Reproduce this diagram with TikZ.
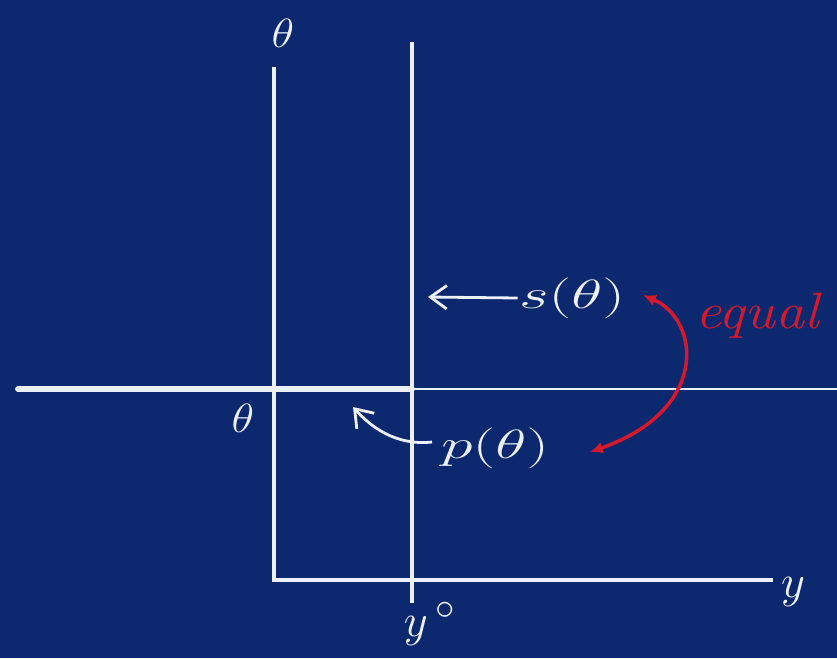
\documentclass[tikz,border=0pt]{standalone}
\usepackage{amsmath,amssymb}
\usepackage{graphicx}
\usetikzlibrary{arrows.meta, positioning, calc}
\definecolor{boardblue}{RGB}{12, 40, 110}
\definecolor{chalk}{RGB}{236, 240, 250}
\definecolor{chalkred}{RGB}{214, 24, 44}
\newcommand{\handw}[1]{\scalebox{2.2}[1.4]{#1}}

\begin{document}
\begin{tikzpicture}[
    x=0.03cm, y=-0.03cm,
    axis/.style={chalk, line width=3pt},
    chalkarrow/.style={-{Straight Barb[length=14pt, width=20pt]}, chalk, line width=2.4pt},
    redarrow/.style={{Latex[length=11pt, width=10pt]}-{Latex[length=11pt, width=10pt]}, chalkred, line width=3pt},
    lbl/.style={text=chalk, inner sep=1pt, font=\Huge}
]

% Fondo de pizarra
\fill[boardblue] (0,0) rectangle (837,658);
\useasboundingbox (0,0) rectangle (837,658);

% Ejes
\coordinate (O) at (274,580);
\coordinate (thetaTop) at (274,67);
\coordinate (yEnd) at (773,580);
\draw[axis] (thetaTop) -- (O) -- (yEnd);

% Recta vertical en y0
\coordinate (yTop) at (412,42);
\coordinate (yBot) at (412,603);
\draw[axis] (yTop) -- (yBot);

% Recta horizontal theta (gruesa hasta y0, luego fina)
\coordinate (hLeft) at (18,389);
\coordinate (hMid) at (412,389);
\coordinate (hRight) at (837,389);
\draw[chalk, line width=5pt, line cap=round] (hLeft) -- (hMid);
\draw[chalk, line width=2.2pt] (hMid) -- (hRight);

% Etiquetas de los ejes
\node[lbl] (thetaLbl) at (283,33) {\scalebox{1.6}[1.4]{$\theta$}};
\node[lbl] (thetaZero) at (243,418) {\scalebox{1.6}[1.4]{$\theta$}};
\node[lbl] (yLbl) at (793,592) {\scalebox{1.6}{$y$}};
\node[lbl] (yZero) at (430,624) {\scalebox{1.6}{$y\,^{\circ}$}};

% s(theta) y p(theta)
\node[lbl] (sTheta) at (572,298) {\handw{$s(\theta)$}};
\node[lbl] (pTheta) at (495,448) {\handw{$p(\theta)$}};
\coordinate (sTip) at (428,297);
\coordinate (pStart) at (432,442);
\coordinate (pTip) at (353,407);
\draw[chalkarrow] (sTheta.west) -- (sTip);
\draw[chalkarrow] (pStart) .. controls (395,446) and (370,426) .. (pTip);

% Flecha roja "equal"
\coordinate (redTop) at (643,295);
\coordinate (redBot) at (590,452);
\draw[redarrow] (redTop) .. controls (700,320) and (710,410) .. (redBot);
\node[text=chalkred, font=\Huge\itshape] (equalLbl) at (757,316) {\scalebox{2.0}[1.75]{equal}};

\end{tikzpicture}
\end{document}
